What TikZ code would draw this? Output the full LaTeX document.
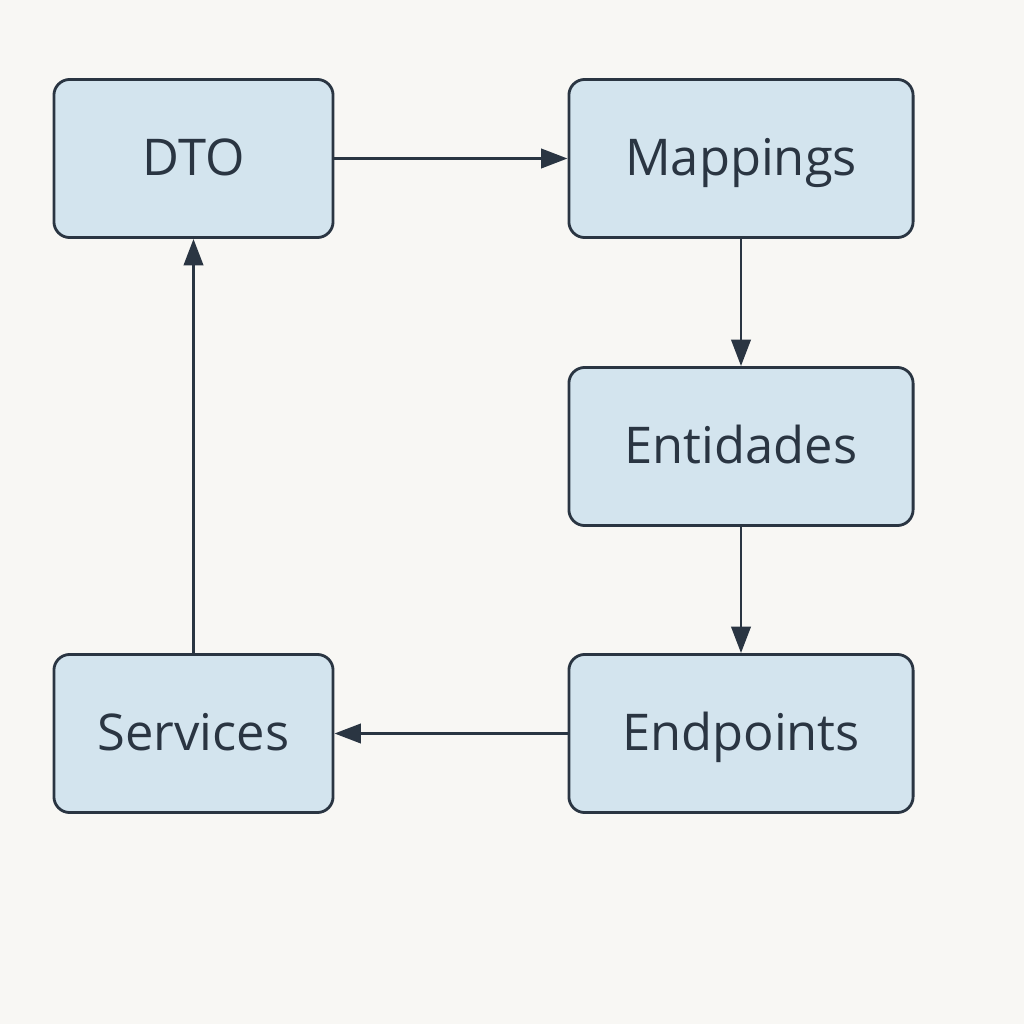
\documentclass[tikz,border=0pt]{standalone}
\usepackage{fontspec}
\setmainfont{Open Sans}
\usepackage{tikz}
\usetikzlibrary{arrows.meta,positioning}
\definecolor{boxblue}{HTML}{D3E4EE}
\definecolor{inkdark}{HTML}{2A3542}
\definecolor{paper}{HTML}{F8F7F4}
\tikzset{
  flow/stage/.style={draw=inkdark, line width=0.8pt, fill=boxblue, rounded corners=4.5pt,
    minimum height=1.58cm, align=center, text=inkdark, text height=1.8ex, text depth=0pt,
    font=\fontsize{14.4}{17}\selectfont},
  flow/narrow/.style={flow/stage, minimum width=2.79cm},
  flow/wide/.style={flow/stage, minimum width=3.44cm},
  flow/arr/.style={-{Triangle[length=7.5pt,width=5.5pt]}, line width=0.8pt, draw=inkdark}
}

\begin{document}
\begin{tikzpicture}[x=0.01cm,y=-0.01cm]
  \fill[paper] (0,0) rectangle (1024,1024);
  \useasboundingbox (0,0) rectangle (1024,1024);

  \node[flow/narrow] (dto) at (193.5,158.5) {DTO};
  \node[flow/wide] (mappings) at (741,158.5) {Mappings};
  \node[flow/wide] (entidades) at (741,446.5) {Entidades};
  \node[flow/wide] (endpoints) at (741,733.5) {Endpoints};
  \node[flow/narrow] (services) at (193.5,733.5) {Services};

  \draw[flow/arr] (dto) -- (mappings);
  \draw[flow/arr] (mappings) -- (entidades);
  \draw[flow/arr] (entidades) -- (endpoints);
  \draw[flow/arr] (endpoints) -- (services);
  \draw[flow/arr] (services) -- (dto);
\end{tikzpicture}
\end{document}
